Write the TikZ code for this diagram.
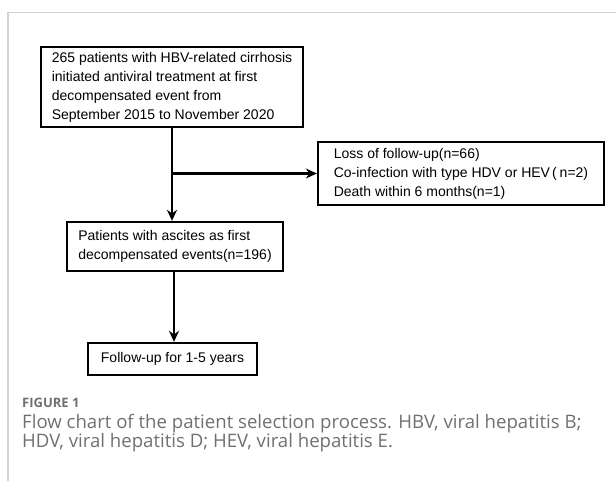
\documentclass[tikz,border=0pt]{standalone}
\usepackage{fontspec}
\setmainfont{Liberation Sans}
\newfontfamily\capfont{Open Sans}
\usetikzlibrary{arrows.meta}
\definecolor{capgray}{HTML}{707070}
\definecolor{framegray}{HTML}{D3D3D3}
\tikzset{
  box/.style={draw=black, line width=2.3pt, fill=white, align=left, inner sep=0pt,
    font=\fontsize{14}{19}\selectfont},
  arr/.style={line width=2.2pt, -{Stealth[length=11pt,width=10pt]}},
  captext/.style={anchor=north west, inner sep=0pt, text=capgray, align=left}
}
\begin{document}
\begin{tikzpicture}[x=1pt,y=-1pt]
\useasboundingbox (0,0) rectangle (616,481);
\draw[framegray, line width=1.2pt] (8,481) -- (8,12.5) -- (616,12.5);

\node[box, minimum width=262pt, minimum height=80pt] (b1) at (172,87)
  {265 patients with HBV-related cirrhosis\\initiated antiviral treatment at first\\decompensated event from\\September 2015 to November 2020};
\node[box, minimum width=286pt, minimum height=63pt] (b2) at (461,173.5)
  {Loss of follow-up(n=66)\\Co-infection with type HDV or HEV\hspace{2pt}(\hspace{3pt}n=2)\\Death within 6 months(n=1)};
\node[box, minimum width=216pt, minimum height=49pt] (b3) at (175,246.5)
  {Patients with ascites as first\\decompensated events(n=196)};
\node[box, minimum width=169pt, minimum height=32pt] (b4) at (172.5,359)
  {Follow-up for 1-5 years};

\coordinate (m1) at (b1.south);
\draw[arr] (m1) -- (m1 |- b3.north);
\draw[arr] (m1 |- b2.west) -- (b2.west);
\coordinate (m3) at ([xshift=1.5pt]b3.south -| b4.north);
\draw[arr] (m3) -- (m3 |- b4.north);

\node[captext, font=\capfont\fontsize{13}{15}\selectfont\bfseries] (fig) at (22,398) {FIGURE 1};
\node[captext, font=\capfont\fontsize{18.6}{19.5}\selectfont] (capt) at (22,414)
  {Flow chart of the patient selection process. HBV, viral hepatitis B;\\HDV, viral hepatitis D; HEV, viral hepatitis E.};
\end{tikzpicture}
\end{document}
